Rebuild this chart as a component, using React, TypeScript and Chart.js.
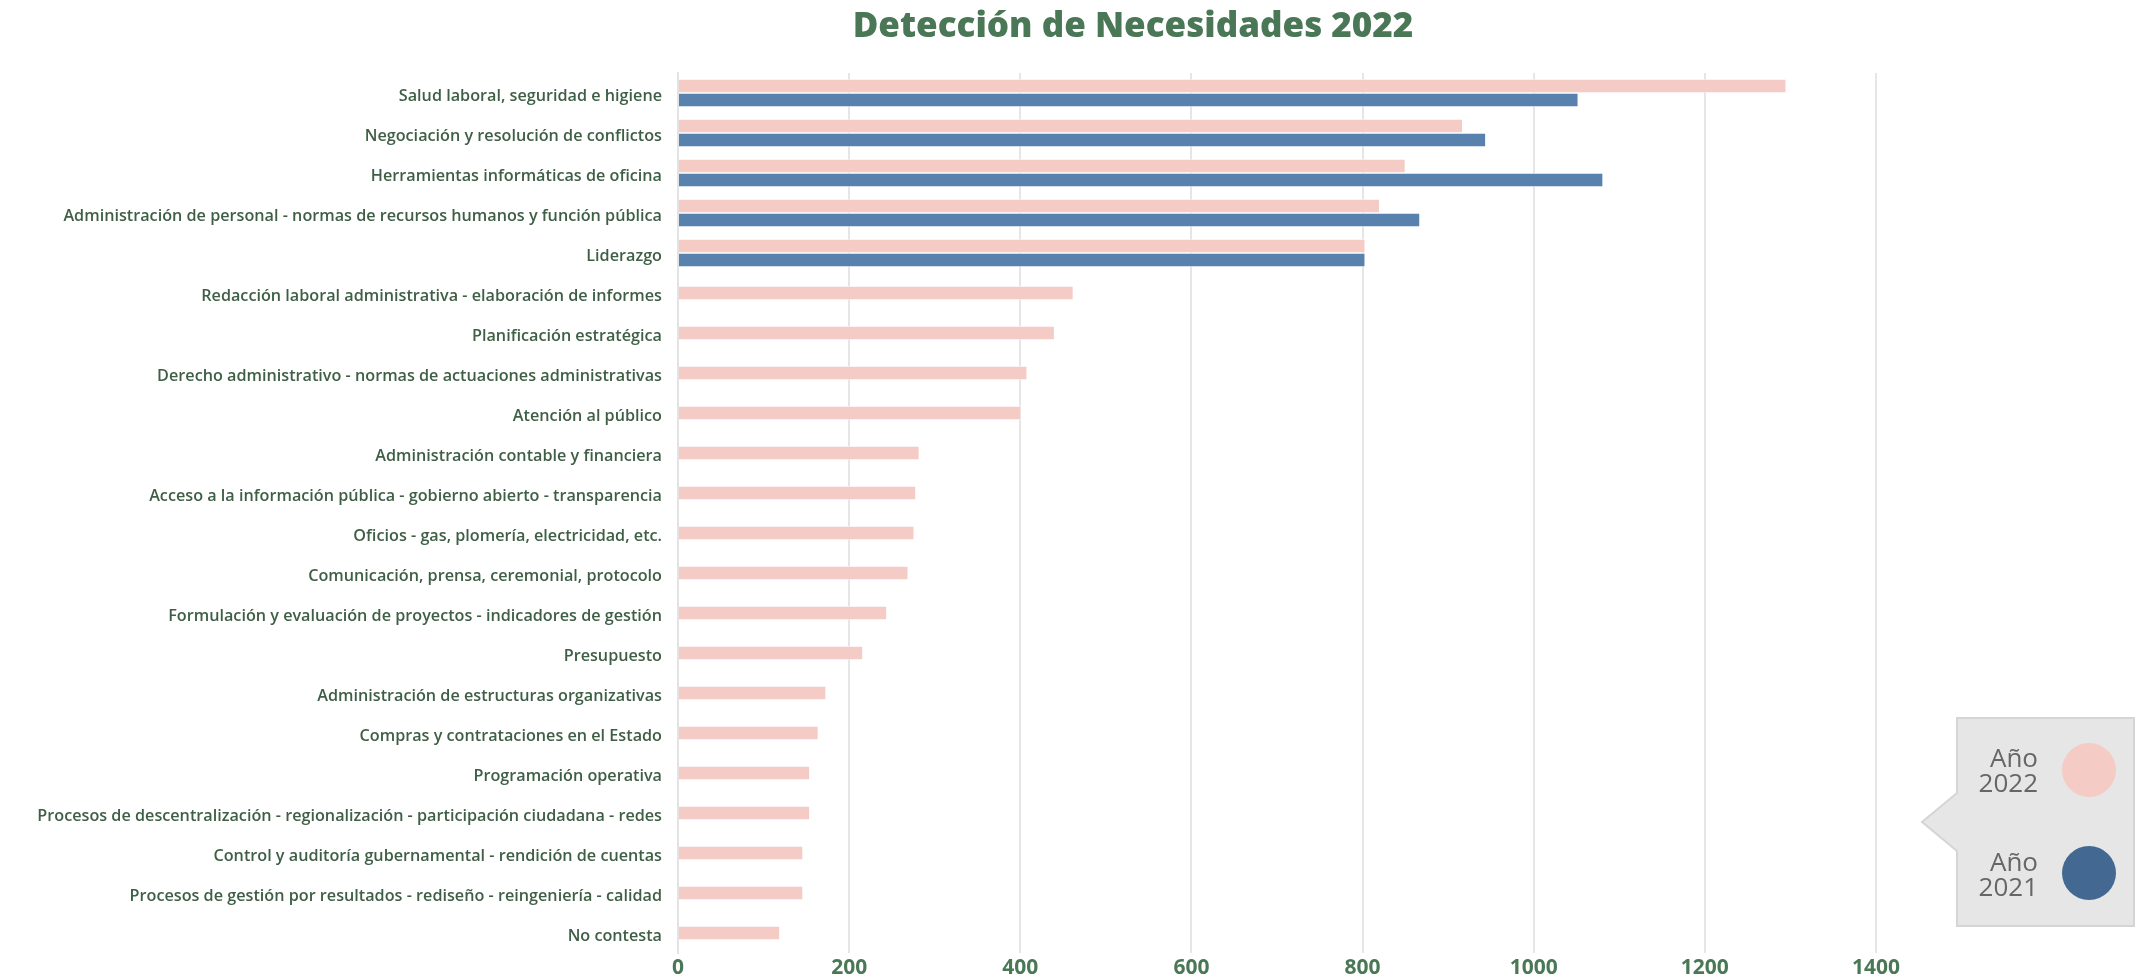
import React, { useEffect, useRef } from "react";
import { Chart, registerables } from "chart.js";

Chart.register(...registerables);

const categories = [
  "Salud laboral, seguridad e higiene",
  "Negociación y resolución de conflictos",
  "Herramientas informáticas de oficina",
  "Administración de personal - normas de recursos humanos y función pública",
  "Liderazgo",
  "Redacción laboral administrativa - elaboración de informes",
  "Planificación estratégica",
  "Derecho administrativo - normas de actuaciones administrativas",
  "Atención al público",
  "Administración contable y financiera",
  "Acceso a la información pública - gobierno abierto - transparencia",
  "Oficios - gas, plomería, electricidad, etc.",
  "Comunicación, prensa, ceremonial, protocolo",
  "Formulación y evaluación de proyectos - indicadores de gestión",
  "Presupuesto",
  "Administración de estructuras organizativas",
  "Compras y contrataciones en el Estado",
  "Programación operativa",
  "Procesos de descentralización - regionalización - participación ciudadana - redes",
  "Control y auditoría gubernamental - rendición de cuentas",
  "Procesos de gestión por resultados - rediseño - reingeniería - calidad",
  "No contesta",
];

const values2022 = [1295, 917, 850, 820, 803, 462, 440, 408, 401, 282, 278, 276, 269, 244, 216, 173, 164, 154, 154, 146, 146, 119];
const values2021 = [1052, 944, 1081, 867, 803, null, null, null, null, null, null, null, null, null, null, null, null, null, null, null, null, null];

const xTicks = [0, 200, 400, 600, 800, 1000, 1200, 1400];

const seriesNames = ["Año 2022", "Año 2021"];
const titleText = "Detección de Necesidades 2022";

const PINK = "#f4cbc5";
const BLUE = "#5881ae";
const BLUE_LEGEND = "#436891";
const GREEN_TITLE = "#4a7856";
const GREEN_LABEL = "#3e5f45";

const titlePlugin = {
  id: "offsetTitle",
  afterDraw(chart: any) {
    const ctx = chart.ctx;
    ctx.save();
    ctx.font = "800 35px 'Open Sans'";
    ctx.fillStyle = GREEN_TITLE;
    ctx.textAlign = "center";
    ctx.textBaseline = "middle";
    ctx.fillText(titleText, 1133, 27);
    ctx.restore();
  },
};

export default function App() {
  const canvasRef = useRef<HTMLCanvasElement | null>(null);

  useEffect(() => {
    const canvas = canvasRef.current;
    if (!canvas) return;
    const chart = new Chart(canvas, {
      type: "bar",
      data: {
        labels: categories,
        datasets: [
          {
            label: seriesNames[0],
            data: values2022,
            backgroundColor: PINK,
            borderColor: "rgba(255,255,255,0.55)",
            borderWidth: 1,
            barThickness: 14,
            skipNull: true,
          } as any,
          {
            label: seriesNames[1],
            data: values2021,
            backgroundColor: BLUE,
            borderColor: "rgba(255,255,255,0.55)",
            borderWidth: 1,
            barThickness: 14,
            skipNull: true,
          } as any,
        ],
      },
      options: {
        indexAxis: "y",
        responsive: false,
        animation: false,
        devicePixelRatio: 1,
        layout: { padding: { left: 0, right: 261, top: 73, bottom: 0 } },
        plugins: {
          legend: { display: false },
          tooltip: { enabled: false },
          title: { display: false },
        },
        scales: {
          x: {
            type: "linear",
            min: 0,
            max: 1400,
            afterBuildTicks: (scale: any) => {
              scale.ticks = xTicks.map((v) => ({ value: v }));
            },
            afterFit: (scale: any) => {
              scale.height = 21;
              scale.paddingLeft = 0;
              scale.paddingRight = 0;
            },
            grid: { color: "#e6e6e6", lineWidth: 2, drawTicks: false },
            border: { display: false },
            ticks: {
              color: GREEN_TITLE,
              font: { family: "'Open Sans'", size: 21, weight: "700" as any },
              padding: 2,
              callback: (v: any) => String(v),
            },
          },
          y: {
            afterFit: (scale: any) => {
              scale.width = 678;
              scale.paddingTop = 0;
              scale.paddingBottom = 0;
            },
            grid: { display: false, drawTicks: false },
            border: { display: true, color: "#e3e3e3", width: 2 },
            ticks: {
              color: GREEN_LABEL,
              font: { family: "'Open Sans'", size: 16.2, weight: "600" as any },
              padding: 16,
              labelOffset: 3,
              autoSkip: false,
            },
          },
        },
      },
      plugins: [titlePlugin],
    });
    return () => chart.destroy();
  }, []);

  const legendText: React.CSSProperties = {
    position: "absolute",
    right: 2137 - 2038,
    textAlign: "right",
    fontFamily: "'Open Sans'",
    fontSize: 26,
    lineHeight: "25px",
    color: "#666666",
    whiteSpace: "nowrap",
  };

  return (
    <div style={{ position: "fixed", left: 0, top: 0, width: 2137, height: 974, background: "#ffffff" }}>
      <canvas ref={canvasRef} width={2137} height={974} style={{ position: "absolute", left: 0, top: 0, width: 2137, height: 974 }} />
      <svg width={2137} height={974} style={{ position: "absolute", left: 0, top: 0, pointerEvents: "none" }}>
        <polygon
          points="1957,718 2134,718 2134,926 1957,926 1957,851 1922,822 1957,793"
          fill="#e6e6e6"
          stroke="#d5d5d5"
          strokeWidth={2}
        />
        <circle cx={2089} cy={770} r={27} fill={PINK} />
        <circle cx={2089} cy={873} r={27} fill={BLUE_LEGEND} />
      </svg>
      <div style={{ ...legendText, top: 745 }}>
        Año
        <br />
        2022
      </div>
      <div style={{ ...legendText, top: 849 }}>
        Año
        <br />
        2021
      </div>
    </div>
  );
}
